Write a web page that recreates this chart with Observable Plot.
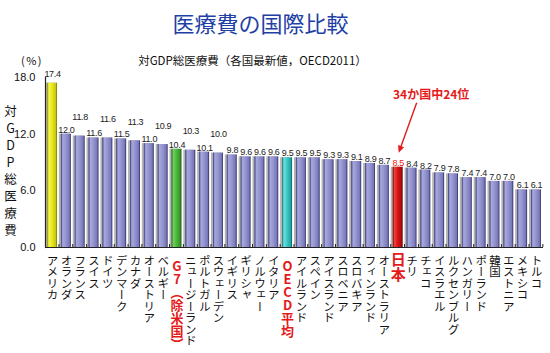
<!DOCTYPE html>
<html><head><meta charset="utf-8">
<script src="https://cdn.jsdelivr.net/npm/d3@7"></script>
<script src="https://cdn.jsdelivr.net/npm/@observablehq/plot@0.6"></script>
<style>
body{margin:0;background:#fff;}
#wrap{position:relative;width:550px;height:353px;font-family:"Noto Sans CJK JP","Liberation Sans",sans-serif;color:#111;}
#title{position:absolute;top:7px;left:0;width:521px;text-align:center;font-size:22px;color:#1e40a5;line-height:30px;}
#sub{position:absolute;top:52px;left:0;width:505px;text-align:center;font-size:11.5px;line-height:16px;}
#unit{position:absolute;top:52px;left:21px;font-size:11px;line-height:16px;letter-spacing:1.5px;}
#chart{position:absolute;top:68px;left:0;}
</style></head><body>
<div id="wrap">
<div id="title">医療費の国際比較</div>
<div id="unit">(%)</div>
<div id="sub">対GDP総医療費（各国最新値，OECD2011）</div>
<div id="chart"></div>
</div>
<script>
const countries = ["アメリカ","オランダ","フランス","スイス","ドイツ","デンマーク","カナダ","オーストリア","ベルギー","G7（除米国）","ニュージーランド","ポルトガル","スウェーデン","イギリス","ギリシャ","ノルウェー","イタリア","OECD平均","アイルランド","スペイン","アイスランド","スロベニア","スロバキア","フィンランド","オーストラリア","日本","チリ","チェコ","イスラエル","ルクセンブルグ","ハンガリー","ポーランド","韓国","エストニア","メキシコ","トルコ"];
const values = [17.4,12.0,11.8,11.6,11.6,11.5,11.3,11.0,10.9,10.4,10.3,10.1,10.0,9.8,9.6,9.6,9.6,9.5,9.5,9.5,9.3,9.3,9.1,8.9,8.7,8.5,8.4,8.2,7.9,7.8,7.4,7.4,7.0,7.0,6.1,6.1];
const yTicks = [0, 6, 12, 18];
const yLabel = "対GDP総医療費";
const annotationTarget = "日本";
const annotationText = "34か国中24位";

// styles
const barGradient = {"アメリカ":"yellow","G7（除米国）":"green","OECD平均":"cyan","日本":"red"};
const gradients = {
  blue:["#34346e","#a8a8e0","#9494d0","#7878b8","#26265e"],
  yellow:["#8a8a00","#f6f64a","#e8e820","#c8c810","#707000"],
  green:["#1c5e1c","#74d060","#4cb83c","#34962a","#144a14"],
  cyan:["#106e6e","#70e0e0","#3cc8c8","#24a4a4","#0a5656"],
  red:["#6a0000","#f04040","#d81414","#b00808","#560000"]
};
const specialLabel = {
  "G7（除米国）":{size:13,dy:12},
  "OECD平均":{size:13,dy:12},
  "日本":{size:15,dy:4}
};
const numFont = "'Liberation Sans', Arial, sans-serif";

const data = countries.map((name, i) => ({name, value: values[i], i}));
const staggered = d => d.i >= 2 && d.i <= 12 && d.i % 2 === 0;
const fillOf = d => `url(#g-${barGradient[d.name] || "blue"})`;
const labelColor = d => d.name === annotationTarget ? "#e41a1a" : "#222";
const valueText = d => d.value.toFixed(1);

const marks = [
  Plot.barY(data, {x: "name", y: "value", fill: "#b4b4b4", dx: -2}),
  Plot.barY(data, {x: "name", y: "value", fill: fillOf}),
  Plot.ruleY([0], {stroke: "#222", strokeWidth: 1.2}),
  Plot.frame({anchor: "left", stroke: "#222", strokeWidth: 1.2}),
  Plot.axisY({ticks: yTicks, tickFormat: d => d.toFixed(1), tickSize: 0, tickPadding: 10, fontSize: 11, label: null}),
  Plot.text(data.filter(d => !staggered(d) && d.i !== 0), {x: "name", y: "value", text: valueText, dy: -1.5, lineAnchor: "bottom", fontSize: 9, fill: labelColor, fontFamily: numFont}),
  Plot.text(data.filter(d => d.i === 0), {x: "name", y: "value", text: valueText, dy: -6, lineAnchor: "bottom", fontSize: 9, fill: labelColor, fontFamily: numFont}),
  Plot.text(data.filter(staggered), {x: "name", y: "value", text: valueText, dy: -16, lineAnchor: "bottom", fontSize: 9, fill: labelColor, fontFamily: numFont}),
  Plot.text(data.filter(d => !specialLabel[d.name]), {x: "name", y: 0, text: "name", dy: 7, textAnchor: "start", lineAnchor: "bottom", fontSize: 11.5, fill: "#111", fontFamily: "Noto Sans CJK JP"}),
  ...Object.entries(specialLabel).map(([name, s]) =>
    Plot.text(data.filter(d => d.name === name), {x: "name", y: 0, text: "name", dy: s.dy, textAnchor: "start", lineAnchor: "bottom", fontSize: s.size, fontWeight: "bold", fill: "#e41a1a", fontFamily: "Noto Sans CJK JP"})),
  Plot.text([yLabel], {frameAnchor: "left", dx: -35, dy: 10, textAnchor: "middle", lineAnchor: "bottom", fontSize: 12.5, fill: "#111", fontFamily: "Noto Sans CJK JP"}),
  Plot.text(data.filter(d => d.name === annotationTarget), {x: "name", y: "value", text: () => annotationText, dx: 33, dy: -72, lineAnchor: "middle", fontSize: 12, fontWeight: "bold", fill: "#e41a1a", fontFamily: "Noto Sans CJK JP"})
];

const plot = Plot.plot({
  width: 550, height: 285,
  marginTop: 9, marginBottom: 106, marginLeft: 45, marginRight: 7,
  x: {domain: countries, paddingInner: 0.28, paddingOuter: 0.15, round: false, axis: null},
  y: {domain: [0, 18], axis: null},
  color: {type: "identity"},
  style: {fontFamily: "'Liberation Sans', 'Noto Sans CJK JP', sans-serif", background: "#fff", color: "#111", overflow: "visible"},
  marks
});

const svg = d3.select(plot);
// gradients
const defs = svg.insert("defs", ":first-child");
for (const [k, c] of Object.entries(gradients)) {
  const g = defs.append("linearGradient").attr("id", "g-" + k).attr("x1", 0).attr("x2", 1).attr("y1", 0).attr("y2", 0);
  [0, 0.18, 0.5, 0.85, 1].forEach((o, j) => g.append("stop").attr("offset", o).attr("stop-color", c[j]));
}
// vertical labels
const vertical = new Set([...countries, yLabel]);
svg.selectAll("text").filter(function() { return vertical.has(this.textContent); })
  .style("writing-mode", "vertical-rl").style("text-orientation", "upright");
svg.selectAll("text").filter(function() { return this.textContent === yLabel; }).style("letter-spacing", "4.5px");
// tighten numeric value labels
const valueSet = new Set(values.map(v => v.toFixed(1)));
svg.selectAll("text").filter(function() { return valueSet.has(this.textContent) && !this.closest("[aria-label='y-axis tick label']"); })
  .style("letter-spacing", "-0.3px");

// category ticks and annotation arrow via the plot's scales
const xs = plot.scale("x"), ys = plot.scale("y");
const bw = xs.bandwidth, step = xs.step;
const baseY = ys.apply(0);
const tickG = svg.append("g").attr("stroke", "#222");
countries.forEach(n => {
  const x = xs.apply(n) + bw + (step - bw) / 2;
  tickG.append("line").attr("x1", x).attr("x2", x).attr("y1", baseY).attr("y2", baseY - 3);
});
const jx = xs.apply(annotationTarget) + bw / 2;
const jy = ys.apply(values[countries.indexOf(annotationTarget)]);
const sx = jx + 19, sy = jy - 64, ex = jx + 1, ey = jy - 14;
const dxv = ex - sx, dyv = ey - sy, len = Math.hypot(dxv, dyv), ux = dxv / len, uy = dyv / len;
const hl = 7, hw = 3.2;
const ag = svg.append("g");
ag.append("line").attr("x1", sx).attr("y1", sy).attr("x2", ex - ux * hl * 0.8).attr("y2", ey - uy * hl * 0.8).attr("stroke", "#e41a1a").attr("stroke-width", 1.4);
ag.append("path").attr("fill", "#e41a1a").attr("d",
  `M${ex},${ey}L${ex - ux * hl - uy * hw},${ey - uy * hl + ux * hw}L${ex - ux * hl + uy * hw},${ey - uy * hl - ux * hw}Z`);

document.getElementById("chart").appendChild(plot);
</script>
</body></html>
